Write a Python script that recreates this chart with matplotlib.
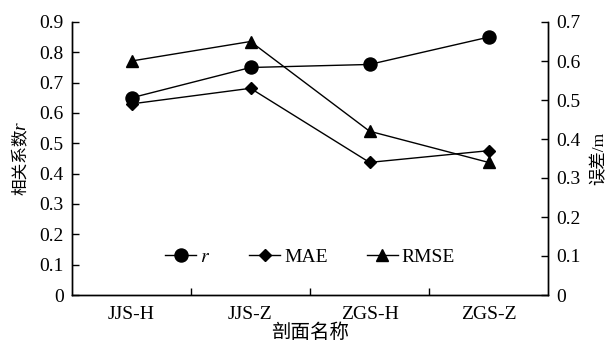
import matplotlib
matplotlib.use("Agg")
import matplotlib.pyplot as plt
import numpy as np

plt.rcParams['font.family'] = ['Liberation Serif', 'Noto Sans CJK SC']
plt.rcParams['mathtext.fontset'] = 'stix'

sections = ['JJS-H', 'JJS-Z', 'ZGS-H', 'ZGS-Z']
r_values = [0.65, 0.75, 0.76, 0.85]
mae = [0.49, 0.53, 0.34, 0.37]
rmse = [0.60, 0.65, 0.42, 0.34]

x = np.arange(len(sections))

W, H = 611, 344
fig = plt.figure(figsize=(W / 100, H / 100), dpi=100)
ax = fig.add_axes([72 / W, 49 / H, 476 / W, 273 / H])
ax2 = ax.twinx()

l1, = ax.plot(x, r_values, color='black', lw=1, marker='o', ms=9.4)
l2, = ax2.plot(x, mae, color='black', lw=1, marker='D', ms=6.2)
l3, = ax2.plot(x, rmse, color='black', lw=1, marker='^', ms=8.8)

ax.set_xlim(-0.5, 3.5)
ax.set_ylim(0, 0.9)
ax2.set_ylim(0, 0.7)
ax.set_yticks(np.arange(0, 0.91, 0.1))
ax.set_yticklabels(['0'] + ['%.1f' % v for v in np.arange(0.1, 0.91, 0.1)])
ax2.set_yticks(np.arange(0, 0.71, 0.1))
ax2.set_yticklabels(['0'] + ['%.1f' % v for v in np.arange(0.1, 0.71, 0.1)])

# category labels in the middle, tick marks on the boundaries
ax.set_xticks(x)
ax.set_xticklabels(sections)
ax.set_xticks([0.5, 1.5, 2.5], minor=True)
ax.tick_params(axis='x', which='major', length=0, labelsize=14, pad=8)
ax.tick_params(axis='x', which='minor', direction='in', length=5, width=1)
ax.tick_params(axis='y', direction='in', length=5, width=1, labelsize=14, pad=6)
ax2.tick_params(axis='y', direction='in', length=5, width=1, labelsize=14, pad=6)

for a in (ax, ax2):
    a.spines['top'].set_visible(False)
    for s in ('left', 'right', 'bottom'):
        a.spines[s].set_linewidth(1)

ax.set_xlabel('剖面名称', fontsize=14, labelpad=0)
ax2.set_ylabel('误差/m', fontsize=12.5, labelpad=8)

# left axis title: Chinese text plus italic r on top
fig.text(20 / W, 1 - 162 / H, '相关系数', rotation=90, ha='center', va='center',
         fontsize=12, family='Noto Sans CJK SC')
fig.text(21 / W, 1 - 130 / H, 'r', rotation=90, ha='center', va='bottom',
         fontsize=14, style='italic', family='Liberation Serif')

ax.legend([l1, l2, l3], ['$r$', 'MAE', 'RMSE'], ncol=3, loc='center',
          bbox_to_anchor=(0.5, 0.14), frameon=False, fontsize=14,
          handlelength=1.6, handletextpad=0.2, columnspacing=2.0)

fig.savefig('out.png', dpi=100)
